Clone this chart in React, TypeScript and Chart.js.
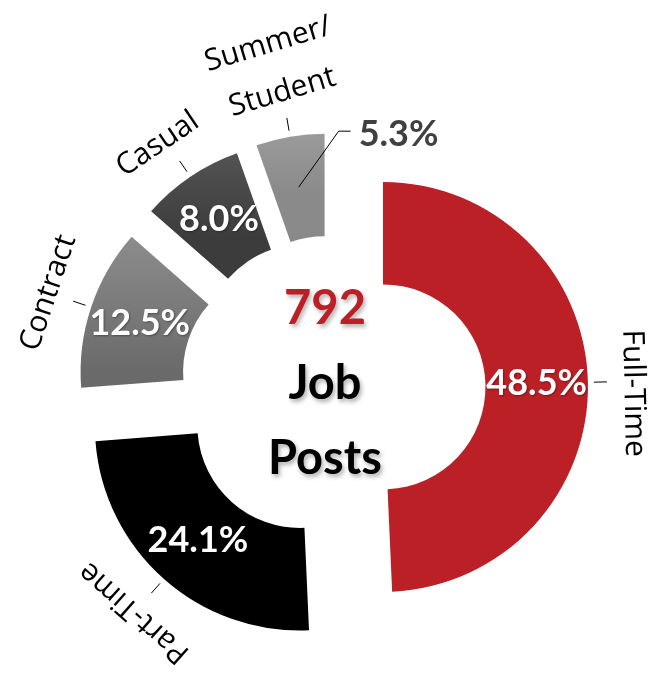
import { useEffect, useRef } from 'react';
import { Chart, registerables } from 'chart.js';

Chart.register(...registerables);

// ---- data ----
const categories = ['Full-Time', 'Part-Time', 'Contract', 'Casual', 'Summer/Student'];
const categoryLines = [['Full-Time'], ['Part-Time'], ['Contract'], ['Casual'], ['Summer/', 'Student']];
const shares = [48.5, 24.1, 12.5, 8.0, 5.3];
const totalPosts = '792';
const centerWords = ['Job', 'Posts'];

// ---- styles ----
const topColors = ['#BB2027', '#000000', '#909090', '#5E5E5E', '#A8A8A8'];
const bottomColors = ['#BB2027', '#000000', '#6A6A6A', '#3C3C3C', '#8A8A8A'];
const EXPLODE = 50;
const OUTER_R = 205;
const OUTSIDE_LABEL_INDEX = 4;
const ROTATION_ADJUST: Record<number, number> = { 4: -7 };
const LABEL_SHIFT: Record<number, number> = { 0: 12, 3: -9 };

function sliceFill(context: any) {
  const i = context.dataIndex;
  const chart = context.chart;
  const area = chart.chartArea;
  if (i === undefined || i === null) return '#888888';
  if (!area || topColors[i] === bottomColors[i]) return topColors[i];
  const cy = (area.top + area.bottom) / 2;
  const total = shares.reduce((a, b) => a + b, 0);
  let start = -Math.PI / 2;
  for (let k = 0; k < i; k++) start += (shares[k] / total) * 2 * Math.PI;
  const end = start + (shares[i] / total) * 2 * Math.PI;
  const mid = (start + end) / 2;
  const oy = cy + Math.sin(mid) * EXPLODE;
  let minY = Infinity;
  let maxY = -Infinity;
  for (let s = 0; s <= 30; s++) {
    const a = start + ((end - start) * s) / 30;
    for (const r of [OUTER_R * 0.5, OUTER_R]) {
      const y = oy + Math.sin(a) * r;
      if (y < minY) minY = y;
      if (y > maxY) maxY = y;
    }
  }
  const g = chart.ctx.createLinearGradient(0, minY, 0, maxY);
  g.addColorStop(0, topColors[i]);
  g.addColorStop(1, bottomColors[i]);
  return g;
}

const explodePlugin = {
  id: 'explodeDraw',
  beforeDatasetsDraw(chart: any) {
    const ctx = chart.ctx;
    const meta = chart.getDatasetMeta(0);
    meta.data.forEach((arc: any) => {
      const mid = (arc.startAngle + arc.endAngle) / 2;
      ctx.save();
      ctx.translate(Math.cos(mid) * EXPLODE, Math.sin(mid) * EXPLODE);
      arc.draw(ctx);
      ctx.restore();
    });
    return false;
  },
  afterDraw(chart: any) {
    const ctx = chart.ctx;
    const meta = chart.getDatasetMeta(0);
    const area = chart.chartArea;
    const cx = (area.left + area.right) / 2;
    const cy = (area.top + area.bottom) / 2;

    meta.data.forEach((arc: any, i: number) => {
      const mid = (arc.startAngle + arc.endAngle) / 2;
      const cos = Math.cos(mid);
      const sin = Math.sin(mid);
      const ox = arc.x + cos * EXPLODE;
      const oy = arc.y + sin * EXPLODE;
      const rMid = (arc.innerRadius + arc.outerRadius) / 2;
      const px = ox + cos * rMid;
      const py = oy + sin * rMid;
      const pct = shares[i].toFixed(1) + '%';

      // percentage label
      ctx.save();
      ctx.font = 'bold 36px Lato';
      if (i === OUTSIDE_LABEL_INDEX) {
        ctx.strokeStyle = '#000';
        ctx.lineWidth = 1;
        ctx.beginPath();
        ctx.moveTo(px, py);
        ctx.lineTo(px + 40, py - 56);
        ctx.lineTo(px + 52, py - 56);
        ctx.stroke();
        ctx.fillStyle = '#404040';
        ctx.textAlign = 'left';
        ctx.textBaseline = 'middle';
        ctx.fillText(pct, px + 60, py - 53);
      } else {
        ctx.fillStyle = '#FFFFFF';
        ctx.textAlign = 'center';
        ctx.textBaseline = 'middle';
        ctx.shadowColor = 'rgba(0,0,0,0.35)';
        ctx.shadowBlur = 2;
        ctx.shadowOffsetX = 1;
        ctx.shadowOffsetY = 1;
        ctx.fillText(pct, px, py);
      }
      ctx.restore();

      // tick mark
      const R = arc.outerRadius;
      ctx.save();
      ctx.strokeStyle = '#000';
      ctx.lineWidth = 1;
      ctx.beginPath();
      ctx.moveTo(ox + cos * (R + 6), oy + sin * (R + 6));
      ctx.lineTo(ox + cos * (R + 19), oy + sin * (R + 19));
      ctx.stroke();
      ctx.restore();

      // category label, rotated along the ring
      const lines = categoryLines[i];
      const lx = ox + cos * (R + 45);
      const ly = oy + sin * (R + 45);
      const rot = mid + Math.PI / 2 + ((ROTATION_ADJUST[i] || 0) * Math.PI) / 180;
      ctx.save();
      ctx.translate(lx, ly);
      ctx.rotate(rot);
      ctx.font = '30px "Open Sans"';
      ctx.fillStyle = '#000';
      ctx.textAlign = 'center';
      ctx.textBaseline = 'middle';
      const n = lines.length;
      const shift = LABEL_SHIFT[i] || 0;
      lines.forEach((line: string, k: number) => {
        ctx.fillText(line, shift, -(n - 1 - k) * 50);
      });
      ctx.restore();
    });

    // centre text
    ctx.save();
    ctx.textAlign = 'center';
    ctx.textBaseline = 'middle';
    ctx.shadowColor = 'rgba(0,0,0,0.3)';
    ctx.shadowBlur = 4;
    ctx.shadowOffsetX = 2;
    ctx.shadowOffsetY = 3;
    ctx.font = 'bold 47px Lato';
    const tx = cx - 8;
    const ty = cy - 4;
    ctx.fillStyle = '#BB2027';
    ctx.fillText(totalPosts, tx, ty - 75);
    ctx.fillStyle = '#000';
    ctx.fillText(centerWords[0], tx, ty);
    ctx.fillText(centerWords[1], tx, ty + 75);
    ctx.restore();
  },
};

export default function App() {
  const canvasRef = useRef<HTMLCanvasElement | null>(null);

  useEffect(() => {
    if (!canvasRef.current) return;
    const chart = new Chart(canvasRef.current, {
      type: 'doughnut',
      data: {
        labels: categories,
        datasets: [
          {
            data: shares,
            backgroundColor: sliceFill as any,
            borderWidth: 0,
          },
        ],
      },
      options: {
        animation: false,
        responsive: true,
        maintainAspectRatio: false,
        events: [],
        radius: OUTER_R,
        cutout: '50%',
        rotation: 0,
        layout: { padding: { left: 8, right: 0, top: 103, bottom: 0 } },
        plugins: {
          legend: { display: false },
          tooltip: { enabled: false },
        },
      },
      plugins: [explodePlugin],
    });
    return () => chart.destroy();
  }, []);

  return (
    <div style={{ position: 'absolute', left: 0, top: 0, width: 658, height: 673 }}>
      <canvas ref={canvasRef} />
    </div>
  );
}
